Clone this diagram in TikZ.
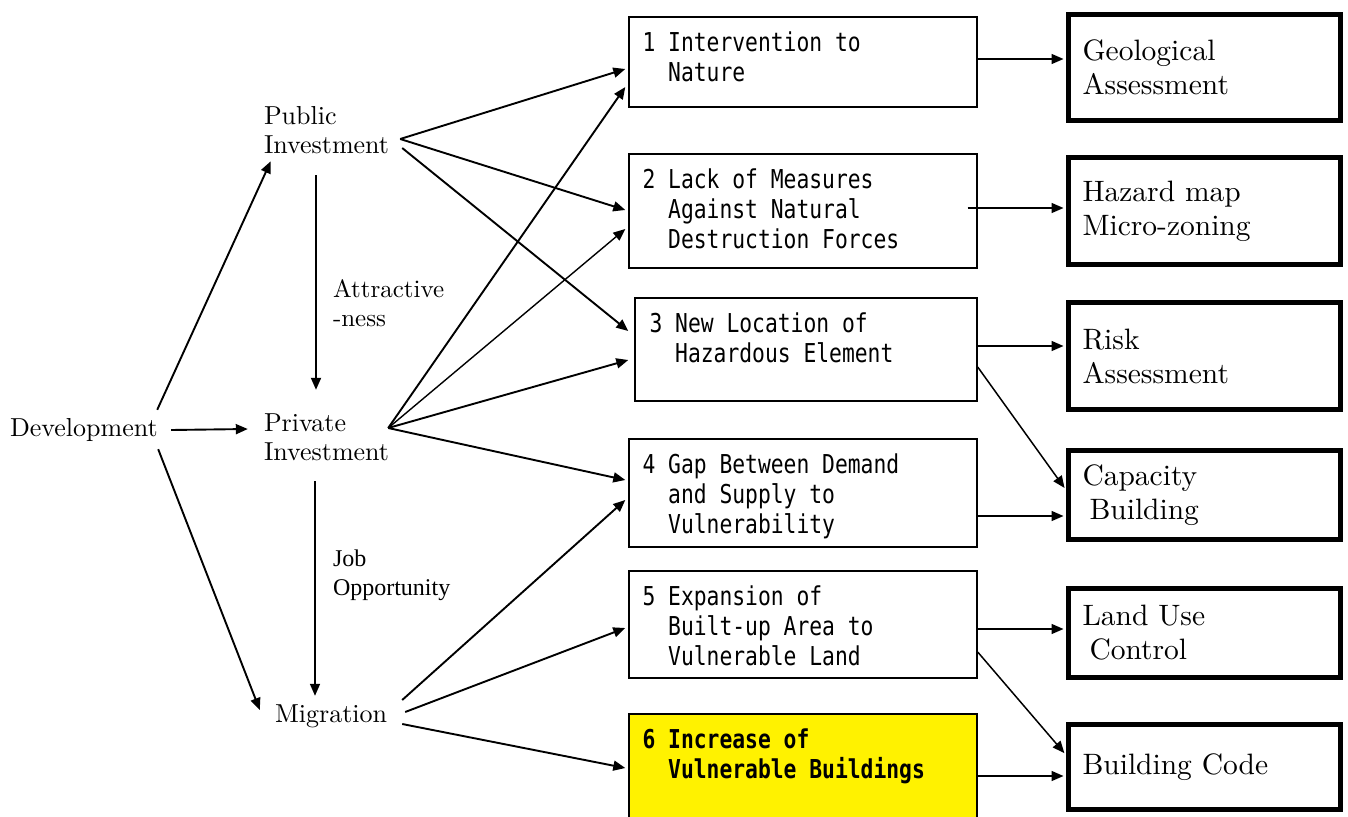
\documentclass[tikz,border=0pt]{standalone}
\usepackage{fontspec}
\usetikzlibrary{arrows.meta}
\setmainfont{lmroman10-regular.otf}
\newfontfamily\gothic[FakeStretch=0.82]{DejaVu Sans Mono}
\newfontfamily\timesf{Liberation Serif}
\begin{document}
\begin{tikzpicture}[x=1pt,y=-1pt,
  lbl/.style={inner sep=0pt, align=left, font=\fontsize{26}{29}\selectfont},
  mbox/.style={draw, line width=1.4pt, minimum width=348pt, inner sep=0pt},
  mtext/.style={inner sep=0pt, align=left, anchor=north west, font=\gothic\fontsize{26}{30}\selectfont},
  rbox/.style={draw, line width=5pt, inner sep=0pt, inner xsep=14pt, text width=244pt, align=left, font=\fontsize{29.5}{34}\selectfont},
  larr/.style={line width=1.9pt, -{Triangle[length=12pt,width=10pt]}},
  rarr/.style={line width=1.5pt, shorten >=2.5pt, -{Triangle[length=12pt,width=10pt]}}]
\useasboundingbox (0,0) rectangle (1348,816);

% left column
\node[lbl, text width=160pt, minimum height=30pt] (dev) at (90,430) {Development};
\node[lbl, text width=140pt, minimum height=50pt] (pub) at (334,130) {Public\\Investment};
\node[lbl, text width=140pt, minimum height=50pt] (priv) at (334,437) {Private\\Investment};
\node[lbl, text width=125pt, minimum height=30pt] (mig) at (337.5,716.5) {Migration};
\node[lbl, text width=130pt, minimum height=50pt, font=\fontsize{25}{29}\selectfont] (attr) at (398,303) {Attractive\\-ness};
\node[lbl, text width=130pt, minimum height=52pt, font=\timesf\fontsize{24}{29}\selectfont] (job) at (398,575) {Job\\Opportunity};

% middle boxes
\node[mbox, minimum height=90pt] (b1) at (803,62) {};
\node[mbox, minimum height=114pt] (b2) at (803,211) {};
\node[mbox, minimum width=342pt, minimum height=103pt] (b3) at (806,349.5) {};
\node[mbox, minimum height=108pt] (b4) at (803,493) {};
\node[mbox, minimum height=107pt] (b5) at (803,624.5) {};
\node[mbox, minimum height=116pt, fill=yellow] (b6) at (803,772) {};

\node[mtext] (t1) at ([xshift=14pt,yshift=-15pt]b1.north west) {1 Intervention to\\\phantom{1} Nature};
\node[mtext] (t2) at ([xshift=14pt,yshift=-15pt]b2.north west) {2 Lack of Measures\\\phantom{2} Against Natural\\\phantom{2} Destruction Forces};
\node[mtext] (t3) at ([xshift=15pt,yshift=-15pt]b3.north west) {3 New Location of\\\phantom{3} Hazardous Element};
\node[mtext] (t4) at ([xshift=14pt,yshift=-15pt]b4.north west) {4 Gap Between Demand\\\phantom{4} and Supply to\\\phantom{4} Vulnerability};
\node[mtext] (t5) at ([xshift=14pt,yshift=-15pt]b5.north west) {5 Expansion of\\\phantom{5} Built-up Area to\\\phantom{5} Vulnerable Land};
\node[mtext, font=\gothic\bfseries\fontsize{26}{30}\selectfont] (t6) at ([xshift=14pt,yshift=-15pt]b6.north west) {6 Increase of\\\phantom{6} Vulnerable Buildings};

% right boxes
\node[rbox, minimum height=106pt] (r1) at (1204.5,67.5) {Geological\\Assessment};
\node[rbox, minimum height=107pt] (r2) at (1204.5,211) {Hazard map\\Micro-zoning};
\node[rbox, minimum height=107pt] (r3) at (1204.5,356) {Risk\\Assessment};
\node[rbox, minimum height=89pt] (r4) at (1204.5,495) {Capacity\\\hspace*{7pt}Building};
\node[rbox, minimum height=89pt] (r5) at (1204.5,633) {Land Use\\\hspace*{7pt}Control};
\node[rbox, minimum height=85pt] (r6) at (1204.5,767) {Building Code};

% left arrows
\draw[larr] ([xshift=-13pt,yshift=5pt]dev.north east) -- ([xshift=7pt,yshift=-6pt]pub.south west);
\draw[larr] ([xshift=1pt]dev.east) -- ([xshift=-16pt,yshift=8pt]priv.west);
\draw[larr] ([xshift=-12pt,yshift=-4pt]dev.south east) -- ([xshift=-15pt,yshift=6.5pt]mig.west);
\draw[larr] ([xshift=-18pt,yshift=-20pt]pub.south) -- ([xshift=-18pt,yshift=22pt]priv.north);
\draw[larr, line width=1.6pt] ([xshift=-19pt,yshift=-19pt]priv.south) -- ([xshift=-22.5pt,yshift=5.5pt]mig.north);

% fans to middle boxes
\draw[larr] ([xshift=-4pt,yshift=-9pt]pub.east) -- ([xshift=-3pt,yshift=-7pt]b1.west);
\draw[larr] ([xshift=-4pt,yshift=-9pt]pub.east) -- ([xshift=-3pt,yshift=1pt]b2.west);
\draw[larr] ([xshift=-2pt,yshift=-18pt]pub.east) -- ([xshift=-6pt,yshift=18.5pt]b3.west);
\draw[larr] ([xshift=-16pt,yshift=9pt]priv.east) -- ([xshift=-3pt,yshift=-25pt]b1.west);
\draw[larr, line width=1.4pt] ([xshift=-16pt,yshift=9pt]priv.east) -- ([xshift=-3pt,yshift=-18pt]b2.west);
\draw[larr] ([xshift=-16pt,yshift=9pt]priv.east) -- ([xshift=-6pt,yshift=-10.5pt]b3.west);
\draw[larr] ([xshift=-16pt,yshift=9pt]priv.east) -- ([xshift=-3pt,yshift=13pt]b4.west);
\draw[larr] ([xshift=2pt,yshift=16.5pt]mig.east) -- ([xshift=-3pt,yshift=-7pt]b4.west);
\draw[larr] ([xshift=5pt,yshift=4.5pt]mig.east) -- ([xshift=-3pt,yshift=-3.5pt]b5.west);
\draw[larr] ([xshift=2pt,yshift=-7.5pt]mig.east) -- ([xshift=-3pt,yshift=4pt]b6.west);

% right arrows
\draw[rarr] ([yshift=3pt]b1.east) -- ([yshift=8.5pt]r1.west);
\draw[rarr] ([xshift=-10pt,yshift=3pt]b2.east) -- ([yshift=3pt]r2.west);
\draw[rarr] ([yshift=3.5pt]b3.east) -- ([yshift=10pt]r3.west);
\draw[rarr] ([yshift=-17.5pt]b3.east) -- ([yshift=5pt]r4.west);
\draw[rarr] ([yshift=-23pt]b4.east) -- ([yshift=-21pt]r4.west);
\draw[rarr] ([yshift=-4.5pt]b5.east) -- ([yshift=4pt]r5.west);
\draw[rarr] ([yshift=-27.5pt]b5.east) -- ([yshift=12pt]r6.west);
\draw[rarr] ([yshift=-4pt]b6.east) -- ([yshift=-9pt]r6.west);
\end{tikzpicture}
\end{document}
